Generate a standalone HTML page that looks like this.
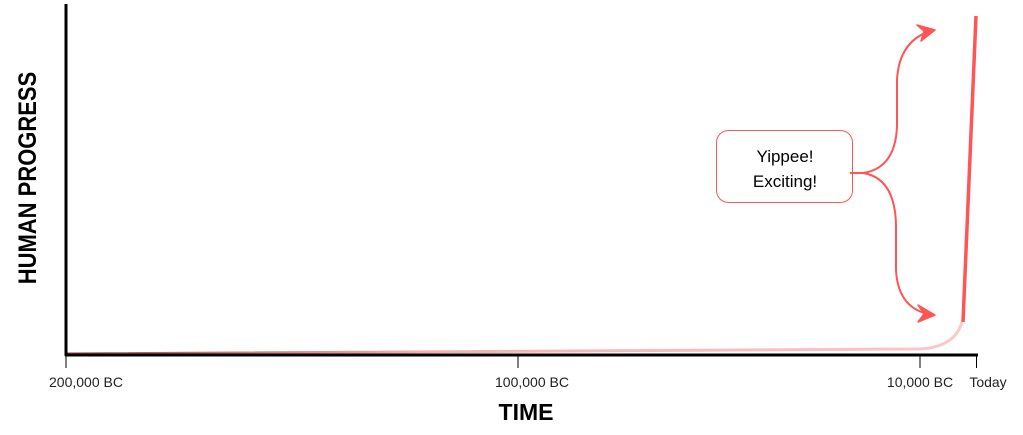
<!DOCTYPE html>
<html><head><style>body{margin:0;background:#fff}</style></head><body>
<svg width="1023" height="430" viewBox="0 0 1023 430" xmlns="http://www.w3.org/2000/svg" font-family="Liberation Sans, sans-serif">
<defs>
<linearGradient id="g" x1="0" x2="1" y1="0" y2="0"><stop offset="0" stop-color="#a04848"/><stop offset="0.4" stop-color="#f6b0b0"/><stop offset="1" stop-color="#fcc8c8"/></linearGradient>
</defs>
<path d="M66 354 L920 349 Q955 347 962 322" stroke="url(#g)" stroke-width="3" fill="none"/>
<line x1="66" y1="4" x2="66" y2="356" stroke="#000" stroke-width="3"/>
<line x1="65" y1="355" x2="978" y2="355" stroke="#000" stroke-width="3"/>
<g stroke="#000" stroke-width="1">
<line x1="66" y1="355" x2="66" y2="368"/><line x1="518" y1="355" x2="518" y2="368"/><line x1="920" y1="355" x2="920" y2="368"/><line x1="976.5" y1="355" x2="976.5" y2="368"/>
</g>
<line x1="963" y1="322" x2="976" y2="16" stroke="#f55" stroke-width="3.5"/>
<g font-size="14" fill="#222" text-anchor="middle">
<text x="86" y="387">200,000 BC</text><text x="532" y="387">100,000 BC</text><text x="920" y="387">10,000 BC</text><text x="988" y="387">Today</text>
</g>
<text x="526" y="420" font-size="23" font-weight="bold" text-anchor="middle">TIME</text>
<text transform="translate(36 178) rotate(-90) scale(1,1.15)" font-size="22" font-weight="bold" text-anchor="middle">HUMAN PROGRESS</text>
<rect x="716.5" y="130.5" width="136" height="72" rx="12" fill="#fff" stroke="#f55" stroke-width="1"/>
<text x="785" y="162" font-size="17" text-anchor="middle">Yippee!</text>
<text x="785" y="187" font-size="17" text-anchor="middle">Exciting!</text>
<g stroke="#f55" stroke-width="2" fill="none">
<path d="M850 173 L863 173 Q896 168 897 125 L897 80 Q899 40 933 30"/>
<path d="M863 173 Q895 178 896 225 L896 270 Q898 310 933 315"/>
</g>
<path d="M935 30 L917 25 L924 31 L921 41 Z" fill="#f55" stroke="#f55" stroke-width="1.5" stroke-linejoin="round"/>
<path d="M935 315 L918 305 L924 314 L918 322 Z" fill="#f55" stroke="#f55" stroke-width="1.5" stroke-linejoin="round"/>
</svg>
</body></html>
